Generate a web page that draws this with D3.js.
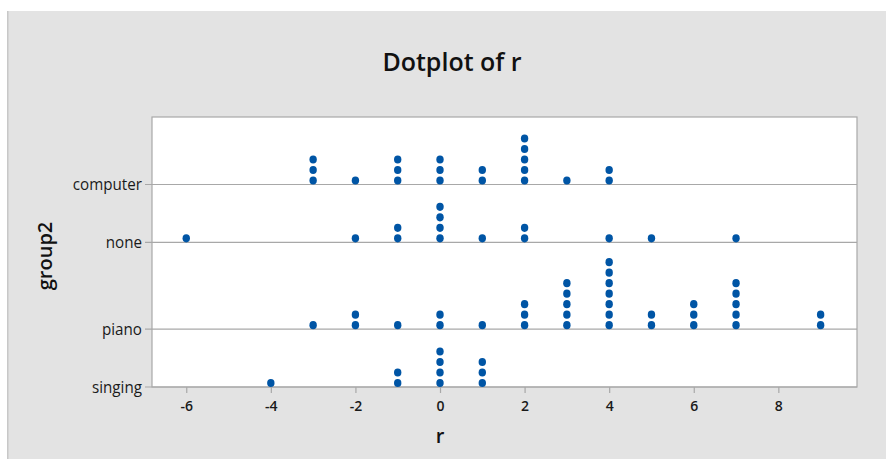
<!DOCTYPE html>
<html><head><meta charset="utf-8">
<script src="https://cdn.jsdelivr.net/npm/d3@7"></script>
<style>body{margin:0;background:#fff;}svg{display:block;font-family:"Open Sans","Noto Sans",sans-serif;}</style>
</head><body><svg id="c" width="886" height="459"></svg>
<script>
const groups = ["computer", "none", "piano", "singing"];
const computerVals = [[-3,3],[-2,1],[-1,3],[0,3],[1,2],[2,5],[3,1],[4,2]];
const noneVals = [[-6,1],[-2,1],[-1,2],[0,4],[1,1],[2,2],[4,1],[5,1],[7,1]];
const pianoVals = [[-3,1],[-2,2],[-1,1],[0,2],[1,1],[2,3],[3,5],[4,7],[5,2],[6,3],[7,5],[9,2]];
const singingVals = [[-4,1],[-1,2],[0,4],[1,3]];
const xTicks = [-6,-4,-2,0,2,4,6,8];
const groupData = {computer: computerVals, none: noneVals, piano: pianoVals, singing: singingVals};

const svg = d3.select("#c");
svg.append("rect").attr("x",7).attr("y",11).attr("width",879).attr("height",448).attr("fill","#e3e3e3");
svg.append("rect").attr("x",7).attr("y",11).attr("width",1.5).attr("height",448).attr("fill","#c8c8c8");

const L=152, R=857, T=117, B=387;
const x = d3.scaleLinear().domain([-6.81, 9.86]).range([L, R]);

const order = ["singing","piano","none","computer"];
let cum = 0; const base = {};
order.forEach(g => { base[g] = cum; cum += d3.max(groupData[g], d=>d[1]) + 2; });
const y = d3.scaleLinear().domain([0, cum]).range([B, T]);
const stackStep = 10.5, firstOff = 4;

svg.append("rect").attr("x",L).attr("y",T).attr("width",R-L).attr("height",B-T)
  .attr("fill","#fff").attr("stroke","#a8a8a8").attr("stroke-width",1.2);

groups.forEach(g => {
  const yy = y(base[g]);
  svg.append("line").attr("x1",L-7).attr("x2",R).attr("y1",yy).attr("y2",yy)
    .attr("stroke","#a8a8a8").attr("stroke-width",1.2);
  svg.append("text").attr("x",L-10).attr("y",yy).attr("dy","0.35em").attr("text-anchor","end")
    .attr("font-size",16).attr("fill","#1a1a1a").attr("transform",`translate(${L-10},0) scale(0.95,1) translate(${-(L-10)},0)`).text(g);
});

const xg = svg.append("g").attr("transform",`translate(0,${B})`)
  .call(d3.axisBottom(x).tickValues(xTicks).tickSize(6).tickSizeOuter(0).tickFormat(d => String(d)));
xg.select(".domain").remove();
xg.selectAll(".tick line").attr("stroke","#a8a8a8").attr("stroke-width",1.2);
xg.selectAll(".tick text").attr("font-size",14).attr("font-weight",600).attr("fill","#1a1a1a")
  .attr("font-family","'Open Sans',sans-serif").attr("dy","1.1em");

groups.forEach(g => {
  groupData[g].forEach(([v, n]) => {
    d3.range(n).forEach(k => {
      svg.append("ellipse").attr("cx", x(v)).attr("cy", y(base[g]) - firstOff - k*stackStep)
        .attr("rx",3.7).attr("ry",4.1).attr("fill","#0055a5");
    });
  });
});

svg.append("text").attr("x",452).attr("y",71).attr("text-anchor","middle")
  .attr("font-size",25).attr("font-weight",600).attr("fill","#111").text("Dotplot of r");
svg.append("text").attr("x",x(0)).attr("y",443).attr("text-anchor","middle")
  .attr("font-size",20).attr("font-weight",600).attr("fill","#111").text("r");
svg.append("text").attr("transform","translate(52,256) rotate(-90)").attr("text-anchor","middle")
  .attr("font-size",20).attr("font-weight",600).attr("fill","#111").text("group2");
</script></body></html>
